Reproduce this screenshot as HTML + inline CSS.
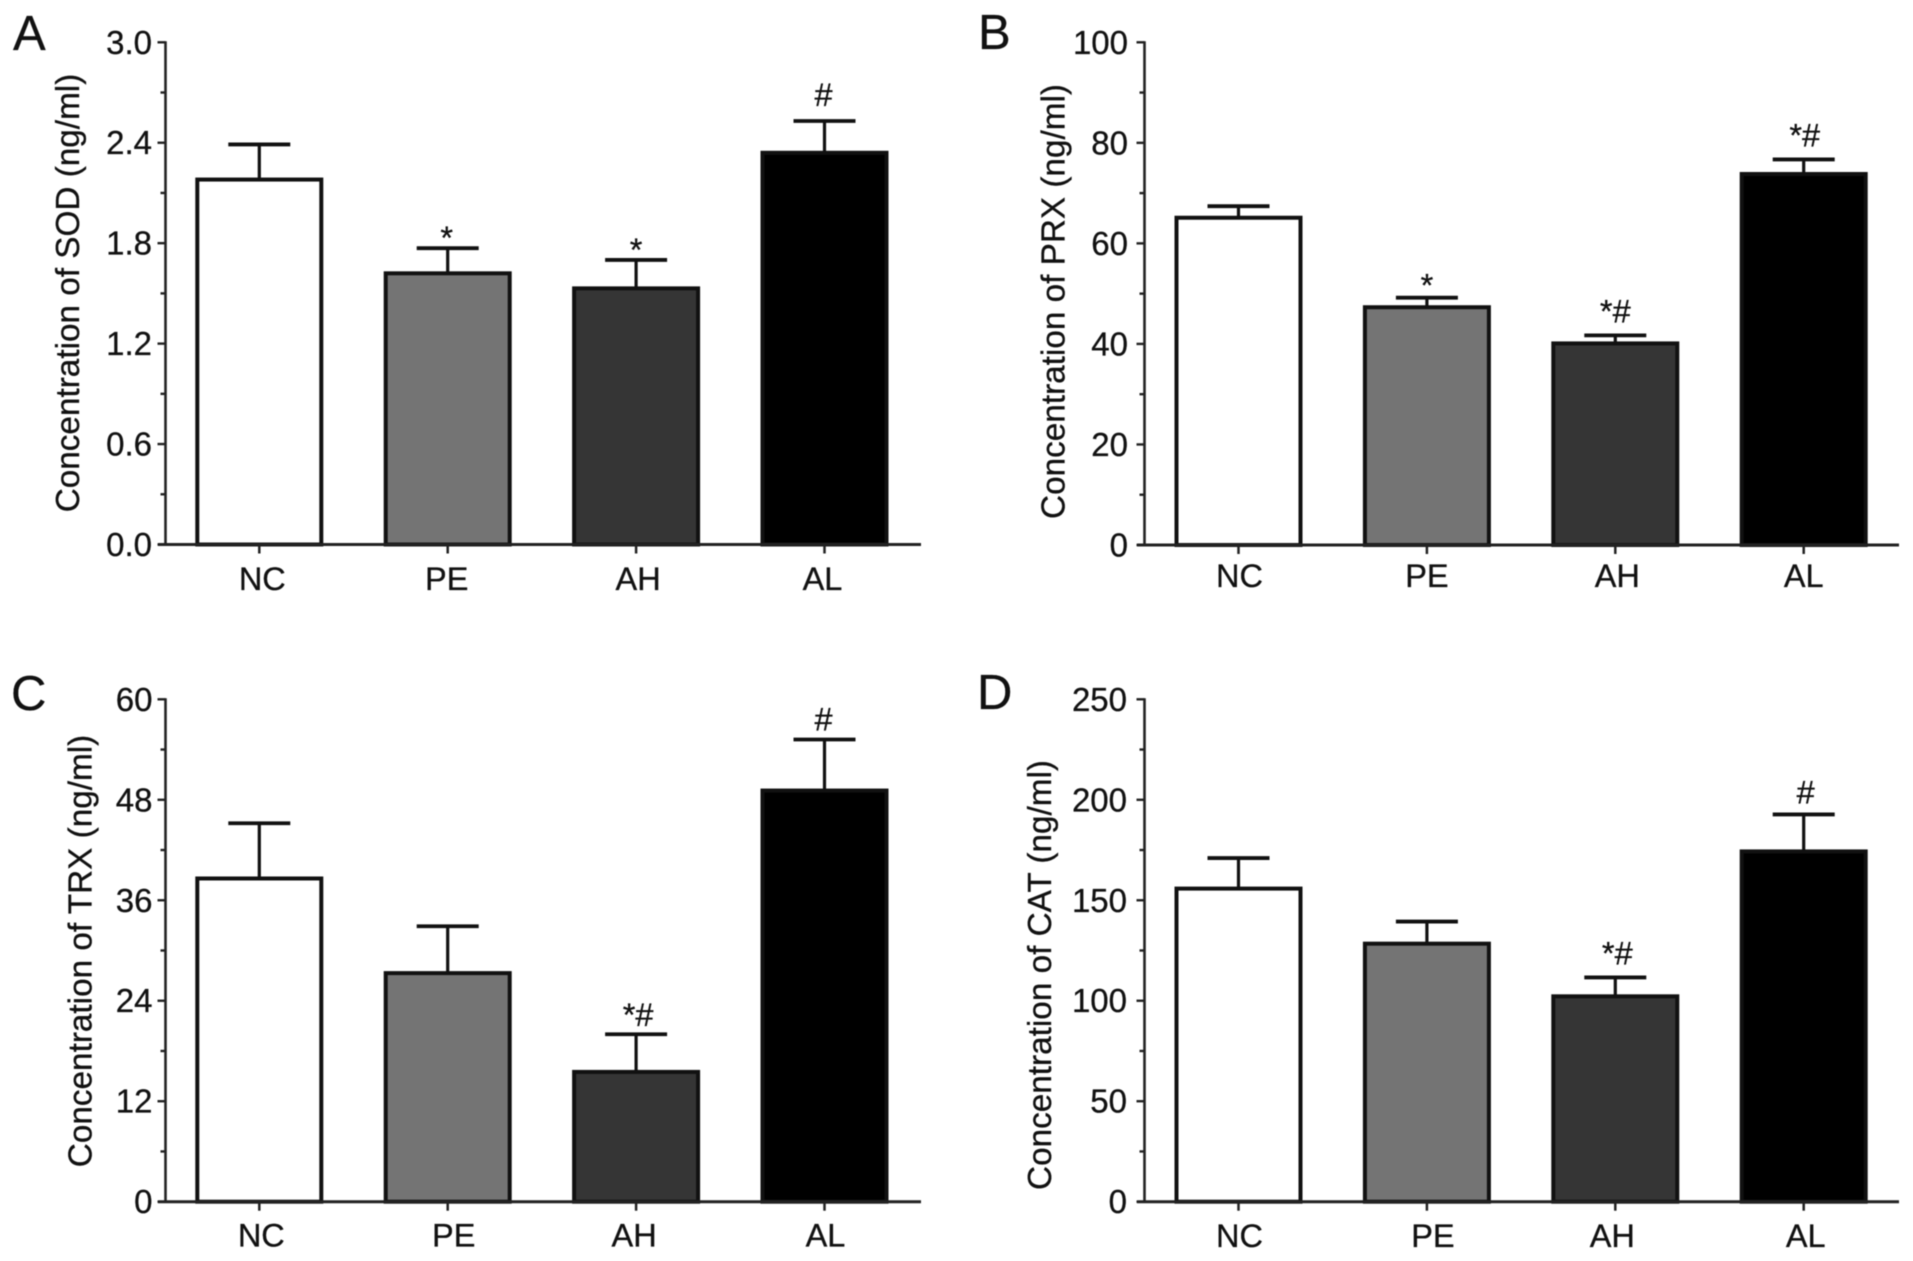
<!DOCTYPE html>
<html lang="en">
<head>
<meta charset="utf-8">
<title>Antioxidant concentrations by group</title>
<style>
html,body{margin:0;padding:0;background:#fff;width:1913px;height:1261px;overflow:hidden}
svg{display:block;filter:blur(0.55px)}
text{font-family:"Liberation Sans",Arial,sans-serif;fill:#111;stroke:#111;stroke-width:0.3px}
</style>
</head>
<body>
<svg id="chart" xmlns="http://www.w3.org/2000/svg" width="1913" height="1261" viewBox="0 0 1913 1261"></svg>
<script>
// ---- data ----
const categories = ["NC", "PE", "AH", "AL"];

const sodTicks = ["0.0", "0.6", "1.2", "1.8", "2.4", "3.0"];
const sodMeans = [2.18, 1.62, 1.53, 2.34];
const sodErrors = [0.21, 0.15, 0.17, 0.19];
const sodMarks = ["", "*", "*", "#"];

const prxTicks = ["0", "20", "40", "60", "80", "100"];
const prxMeans = [65.1, 47.3, 40.1, 73.8];
const prxErrors = [2.3, 1.9, 1.6, 2.9];
const prxMarks = ["", "*", "*#", "*#"];

const trxTicks = ["0", "12", "24", "36", "48", "60"];
const trxMeans = [38.6, 27.3, 15.5, 49.1];
const trxErrors = [6.6, 5.6, 4.5, 6.1];
const trxMarks = ["", "", "*#", "#"];

const catTicks = ["0", "50", "100", "150", "200", "250"];
const catMeans = [155.8, 128.4, 102.2, 174.3];
const catErrors = [15.2, 11.0, 9.4, 18.4];
const catMarks = ["", "", "*#", "#"];

const barFills = ["#ffffff", "#747474", "#353535", "#000000"];

// ---- drawing ----
const svg = document.getElementById("chart");
const NS = "http://www.w3.org/2000/svg";

function make(parent, tag, attrs, txt) {
  const el = document.createElementNS(NS, tag);
  for (const k in attrs) el.setAttribute(k, attrs[k]);
  if (txt !== undefined) el.textContent = txt;
  parent.appendChild(el);
  return el;
}

const panels = [
  {key: "sod", letter: "A", title: "Concentration of SOD (ng/ml)", ticks: sodTicks, means: sodMeans, errors: sodErrors, marks: sodMarks,
   axisX: 165.5, top: 42.3, base: 544.5, xStart: 158, xEnd: 921, first: 259.3, step: 188.4,
   letterX: 13, letterY: 50, titleX: 79, titleY: 293, tickRight: 152, labelY: 590, labelDx: [3, -1, 2, -2],
   markDx: [0, -1, 0, -1], markOffsets: {"*": 1, "#": -15, "*#": -14}},
  {key: "prx", letter: "B", title: "Concentration of PRX (ng/ml)", ticks: prxTicks, means: prxMeans, errors: prxErrors, marks: prxMarks,
   axisX: 1144.5, top: 42.3, base: 545, xStart: 1137, xEnd: 1899, first: 1238.5, step: 188.4,
   letterX: 978, letterY: 49, titleX: 1064.5, titleY: 301.5, tickRight: 1128, labelY: 587, labelDx: [1, 0, 2, 0],
   markDx: [0, 0, 0, 1], markOffsets: {"*": -1, "#": -15, "*#": -13}},
  {key: "trx", letter: "C", title: "Concentration of TRX (ng/ml)", ticks: trxTicks, means: trxMeans, errors: trxErrors, marks: trxMarks,
   axisX: 165.5, top: 699.3, base: 1201.7, xStart: 158, xEnd: 921, first: 259.3, step: 188.4,
   letterX: 11, letterY: 710, titleX: 91.5, titleY: 951, tickRight: 152.5, labelY: 1246.7, labelDx: [2, 6, -2, 1],
   markDx: [0, 0, 2, -1], markOffsets: {"*": 1, "#": -9, "*#": -8}},
  {key: "cat", letter: "D", title: "Concentration of CAT (ng/ml)", ticks: catTicks, means: catMeans, errors: catErrors, marks: catMarks,
   axisX: 1144.5, top: 699.3, base: 1201.7, xStart: 1137, xEnd: 1899, first: 1238.5, step: 188.4,
   letterX: 977, letterY: 709, titleX: 1051, titleY: 975, tickRight: 1127, labelY: 1247, labelDx: [1, 6, -3, 2],
   markDx: [0, 0, 2, 2], markOffsets: {"*": 1, "#": -11, "*#": -13}}
];

panels.forEach(function (p) {
  const g = make(svg, "g", {});
  
  

  const yMax = parseFloat(p.ticks[p.ticks.length - 1]);
  const yScale = function (v) { return p.base - (v / yMax) * (p.base - p.top); };
  const xScale = function (i) { return p.first + i * p.step; };

  // panel letter
  const letter = make(g, "text", {x: p.letterX, y: p.letterY, "font-size": 49}, p.letter);
  
  

  // y axis title
  const title = make(g, "text", {
    x: 0, y: 0, "font-size": 33.3, "text-anchor": "middle",
    transform: "translate(" + p.titleX + "," + p.titleY + ") rotate(-90)"
  }, p.title);
  
  

  // bars
  categories.forEach(function (c, i) {
    const cx = xScale(i);
    const topY = yScale(p.means[i]);
    const capY = yScale(p.means[i] + p.errors[i]);

    const stem = make(g, "line", {x1: cx, x2: cx, y1: topY, y2: capY, stroke: "#111", "stroke-width": 3.2});
    
    

    const cap = make(g, "line", {x1: cx - 31, x2: cx + 31, y1: capY, y2: capY, stroke: "#111", "stroke-width": 3.8});
    
    

    const bar = make(g, "rect", {
      x: cx - 62, y: topY, width: 124, height: p.base - topY,
      fill: barFills[i], stroke: "#111", "stroke-width": 4
    });
    
    

    const tick = make(g, "line", {x1: cx, x2: cx, y1: p.base, y2: p.base + 9, stroke: "#222", "stroke-width": 2.5});
    
    

    const label = make(g, "text", {x: cx + p.labelDx[i], y: p.labelY, "font-size": 32.5, "text-anchor": "middle"}, c);
    
    

    const markText = p.marks[i];
    if (markText) {
      const mark = make(g, "text", {
        x: cx + p.markDx[i], y: capY + p.markOffsets[markText],
        "font-size": 32.5, "text-anchor": "middle"
      }, markText);
      
      
    }
  });

  // axes
  const yAxis = make(g, "line", {x1: p.axisX, x2: p.axisX, y1: p.top - 1, y2: p.base + 1, stroke: "#222", "stroke-width": 2.6});
  
  

  const xAxis = make(g, "line", {x1: p.xStart, x2: p.xEnd, y1: p.base, y2: p.base, stroke: "#222", "stroke-width": 3});
  
  

  // y ticks (major with labels, one unlabeled minor between each)
  p.ticks.forEach(function (t, i) {
    const v = parseFloat(t);
    const y = yScale(v);
    const major = make(g, "line", {x1: p.axisX - 8, x2: p.axisX, y1: y, y2: y, stroke: "#222", "stroke-width": 2.4});
    
    

    const tickLabel = make(g, "text", {x: p.tickRight, y: y + 11.5, "font-size": 33, "text-anchor": "end"}, t);
    
    

    if (i < p.ticks.length - 1) {
      const my = yScale((v + parseFloat(p.ticks[i + 1])) / 2);
      const minor = make(g, "line", {x1: p.axisX - 5, x2: p.axisX, y1: my, y2: my, stroke: "#222", "stroke-width": 2.4});
      
      
    }
  });
});
</script>
</body>
</html>
